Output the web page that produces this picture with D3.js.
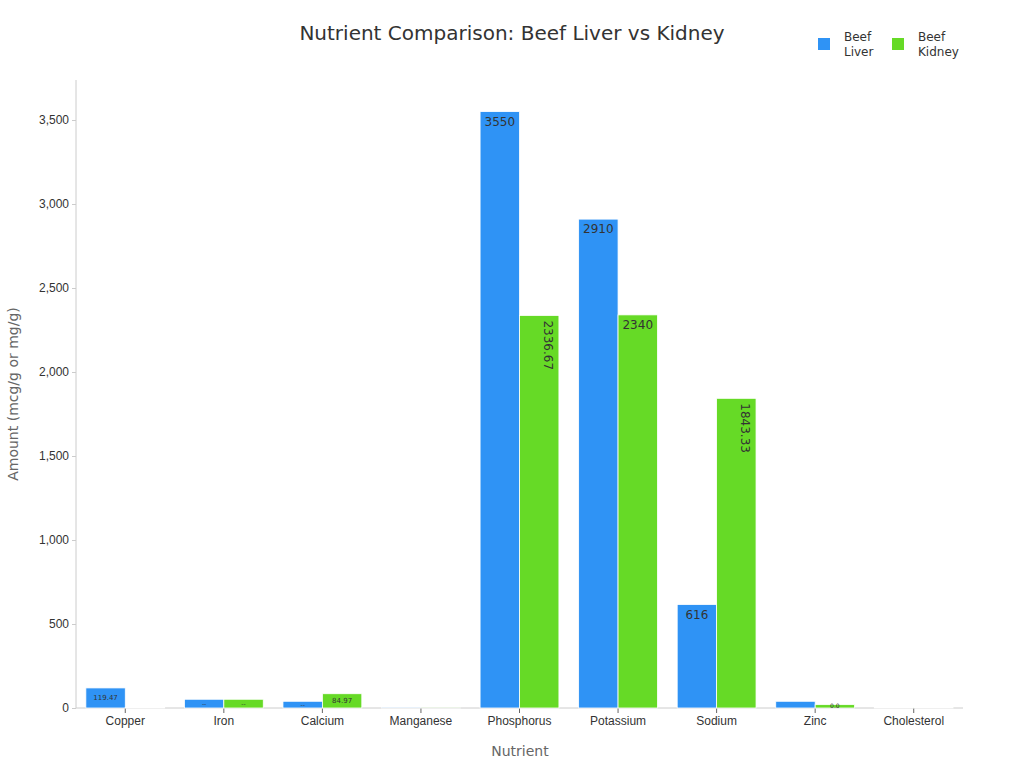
<!DOCTYPE html><html><head><meta charset="utf-8"><script src="https://cdn.jsdelivr.net/npm/d3@7"></script>
<style>body{margin:0;background:#fff;font-family:"DejaVu Sans",sans-serif}</style></head><body><svg id="c" width="1024" height="768"></svg>
<script>
const categories=["Copper","Iron","Calcium","Manganese","Phosphorus","Potassium","Sodium","Zinc","Cholesterol"];
const liver=[119.47,52,40,2,3550,2910,616,40,3];
const kidney=[3,52,84.97,1,2336.67,2340,1843.33,20,3];
const liverLabels=["119.47","--","--","","3550","2910","616","","" ];
const kidneyLabels=["","--","84.97","","2336.67","2340","1843.33","0.0",""];
const yTicks=[0,500,1000,1500,2000,2500,3000,3500];
const series=[{name:"Beef Liver",vals:liver,labs:liverLabels,color:"#2f93f5"},{name:"Beef Kidney",vals:kidney,labs:kidneyLabels,color:"#66da26"}];
const svg=d3.select("#c");
const L=76,R=963,T=80,B=708;
const x=d3.scaleBand().domain(categories).range([L,R]).paddingInner(0.2).paddingOuter(0.1);
const xs=d3.scaleBand().domain([0,1]).range([0,x.bandwidth()]);
const y=d3.scaleLinear().domain([0,3500]).range([B,120]);
svg.append("text").attr("x",512).attr("y",40).attr("text-anchor","middle").attr("font-size",20).attr("fill","#333").text("Nutrient Comparison: Beef Liver vs Kidney");
const ya=svg.append("g").attr("transform",`translate(${L},0)`).call(d3.axisLeft(y).tickValues(yTicks).tickSize(4));
ya.select(".domain").attr("d",`M0,${T}V${B}`).attr("stroke","#ccc");
ya.selectAll("line").attr("stroke","#ccc");ya.selectAll("text").attr("font-size",12).attr("fill","#333");
const xa=svg.append("g").attr("transform",`translate(0,${B})`).call(d3.axisBottom(x).tickSize(5));
xa.select(".domain").attr("d",`M${L},0H${R}`).attr("stroke","#ccc");
xa.selectAll("line").attr("stroke","#666");xa.selectAll("text").attr("font-size",12).attr("fill","#333");
svg.append("text").attr("x",520).attr("y",756).attr("text-anchor","middle").attr("font-size",14).attr("fill","#666").text("Nutrient");
svg.append("text").attr("transform","translate(18,394) rotate(-90)").attr("text-anchor","middle").attr("font-size",14).attr("fill","#666").text("Amount (mcg/g or mg/g)");
series.forEach((s,si)=>{
  const g=svg.append("g");
  categories.forEach((c,i)=>{
    const bx=x(c)+xs(si),bw=xs.bandwidth(),by=y(s.vals[i]);
    g.append("rect").attr("x",bx).attr("y",by).attr("width",bw).attr("height",B-by).attr("fill",s.color).attr("stroke","#fff").attr("stroke-width",0.8);
    const lab=s.labs[i];if(!lab)return;
    const h=B-by;
    if(h<25){g.append("text").attr("x",bx+bw/2).attr("y",by+h/2+2).attr("text-anchor","middle").attr("font-size",lab.length>3?7:6).attr("fill","#333").text(lab);}
    else if(lab.length>5){g.append("text").attr("transform",`translate(${bx+bw/2+5},${by+5}) rotate(90)`).attr("font-size",12).attr("fill","#333").text(lab);}
    else{g.append("text").attr("x",bx+bw/2).attr("y",by+14).attr("text-anchor","middle").attr("font-size",lab.length>4?10:12).attr("fill","#333").text(lab);}
  });
});
series.forEach((s,si)=>{
  const lx=818+si*74;
  svg.append("rect").attr("x",lx).attr("y",38).attr("width",12).attr("height",12).attr("fill",s.color);
  const t=svg.append("text").attr("x",lx+26).attr("y",41).attr("font-size",12).attr("fill","#333");
  s.name.split(" ").forEach((w,k)=>t.append("tspan").attr("x",lx+26).attr("dy",k?15:0).text(w));
});
</script></body></html>
